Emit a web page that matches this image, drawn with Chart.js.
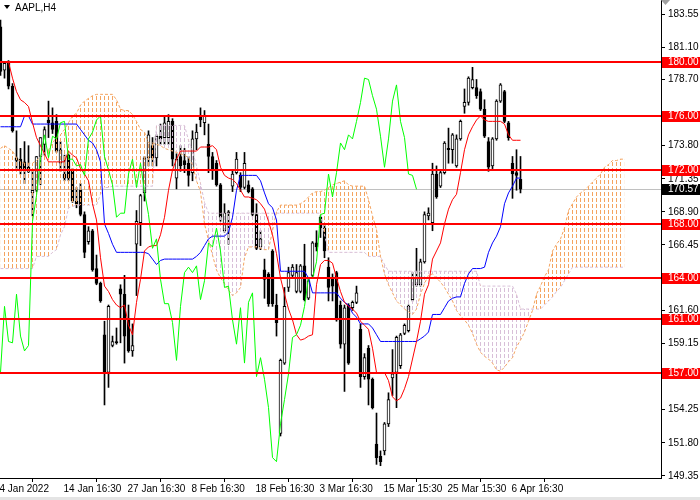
<!DOCTYPE html>
<html>
<head>
<meta charset="utf-8">
<script src="https://cdn.jsdelivr.net/npm/chart.js@4.4.1/dist/chart.umd.min.js"></script>
<style>
  html, body { margin: 0; padding: 0; background: #fff; }
  canvas { display: block; }
</style>
</head>
<body>
<canvas id="chart" width="700" height="500"></canvas>
<script>
// ── DATA (AAPL, H4) ──────────────────────────
const openP = [
  182.6,179.4,179.9,178.2,172.9,172.8,172.6,172.2,170.3,170.5,
  173.0,173.9,175.7,175.5,175.6,172.5,171.7,173.1,171.9,169.7,
  170.5,168.7,166.7,167.5,164.7,163.6,159.8,157.0,159.0,159.3,
  163.2,162.8,161.0,158.6,166.5,168.1,170.3,172.9,173.8,172.9,
  174.5,174.4,174.4,175.6,171.4,173.0,172.7,172.5,171.8,174.3,
  176.0,175.5,173.9,173.0,172.5,170.9,167.5,168.9,170.8,171.8,
  171.6,170.7,170.9,170.6,168.7,166.3,164.6,164.3,166.0,162.0,
  152.5,157.7,163.3,164.2,163.0,163.0,164.9,162.5,164.2,166.6,
  168.5,167.7,164.8,164.0,164.4,162.0,159.1,162.0,161.8,162.2,
  160.2,156.7,158.8,156.5,151.7,150.8,151.2,153.2,156.6,157.0,
  157.5,159.9,160.1,162.4,163.5,163.5,165.2,168.6,168.1,171.7,
  170.8,171.8,173.6,173.5,172.3,174.3,176.7,177.0,178.1,178.1,
  177.8,176.5,174.1,172.3,174.3,177.1,177.8,175.5,172.5,171.8,
  171.3
];
const highP = [
  183.1,180.0,180.1,178.4,174.9,173.6,174.1,173.8,171.9,173.0,
  174.4,175.2,177.1,176.6,176.1,174.1,173.1,173.2,172.1,170.7,
  171.0,168.9,167.8,167.6,165.7,163.7,160.8,162.0,159.7,160.3,
  163.5,164.2,162.0,160.6,169.0,170.2,173.0,174.9,174.4,174.6,
  175.4,175.9,176.1,175.8,173.2,173.8,173.6,173.0,174.9,175.4,
  176.6,176.4,175.4,173.3,172.7,171.0,169.5,169.0,171.9,173.3,
  171.8,173.3,171.2,170.7,169.5,167.5,165.4,164.4,166.1,162.8,
  158.0,163.3,164.8,165.0,165.0,165.0,166.5,163.9,166.7,167.5,
  168.6,168.0,165.5,164.3,164.5,162.3,162.0,162.1,162.3,163.4,
  160.6,158.4,159.0,156.6,154.0,151.2,153.3,155.5,158.7,159.7,
  159.9,160.6,162.0,164.4,166.2,165.4,168.9,169.2,172.5,172.3,
  171.9,174.1,175.1,174.7,174.6,175.7,178.0,178.9,179.6,178.7,
  178.0,177.2,174.4,174.4,177.2,178.4,177.9,175.6,173.0,173.5,
  173.0
];
const lowP = [
  179.0,178.8,178.0,174.8,172.1,171.7,171.0,171.8,168.6,170.4,
  170.9,173.1,174.4,174.7,173.3,171.9,171.2,171.2,169.6,169.2,
  168.6,165.5,166.5,164.5,163.5,162.2,154.6,155.9,158.9,159.1,
  159.2,157.7,158.5,158.2,162.7,166.4,169.7,172.3,172.3,172.3,
  173.9,173.9,173.9,172.3,170.6,171.9,171.8,170.8,171.2,173.5,
  175.2,174.6,171.8,171.3,170.8,168.2,167.4,166.5,170.4,171.7,
  170.4,170.6,170.3,168.6,166.1,166.1,162.5,161.9,161.9,159.7,
  152.3,157.6,163.0,164.0,162.9,162.9,162.3,162.4,164.0,166.0,
  167.0,165.5,162.3,162.3,160.8,158.8,155.6,157.6,161.6,162.1,
  155.9,156.5,154.6,154.3,150.2,150.1,150.9,153.0,155.3,154.4,
  157.3,159.8,160.0,162.3,163.4,163.4,165.1,168.3,167.5,169.9,
  170.7,171.7,172.5,172.5,172.2,174.2,176.2,176.8,178.0,177.3,
  176.4,174.4,171.9,172.1,174.2,177.0,175.5,174.2,169.9,170.5,
  170.3
];
const closeP = [
  179.3,179.9,178.2,174.9,172.7,172.1,172.1,171.9,170.5,173.0,
  174.4,175.0,175.5,175.0,173.4,173.5,171.4,171.4,169.7,169.5,
  168.7,165.9,167.5,164.6,163.6,162.3,157.0,161.9,159.3,159.2,
  162.8,159.7,158.6,159.0,168.2,170.1,172.9,174.6,172.9,174.5,
  174.3,175.5,175.6,172.8,172.8,172.3,172.4,171.6,174.3,174.8,
  175.7,176.0,173.0,172.0,170.9,168.5,168.8,168.8,171.7,172.8,
  170.7,172.5,170.4,168.7,166.2,166.9,163.9,162.1,162.1,160.7,
  157.9,161.9,164.4,164.8,164.4,164.9,162.4,163.8,166.6,166.3,
  167.7,166.0,163.3,163.4,160.9,159.1,161.8,157.7,162.2,162.9,
  156.7,158.1,156.5,154.4,150.7,150.4,153.2,155.0,156.9,159.6,
  159.8,160.5,161.9,164.0,164.0,165.2,168.7,168.8,171.7,170.0,
  171.8,174.0,173.5,174.6,174.3,175.6,177.0,178.8,178.7,177.5,
  176.5,174.5,172.2,174.3,177.1,178.3,175.6,174.4,171.7,171.6,
  170.57
];

// Ichimoku lines
const tenkan = [
  180.0,180.0,180.0,178.8,177.8,177.2,177.0,176.7,175.5,174.4,
  173.8,173.2,172.6,172.6,172.6,172.6,172.6,173.4,173.1,172.9,
  172.1,171.7,171.2,169.5,168.3,165.5,163.4,163.0,162.4,162.0,
  161.8,162.0,160.5,159.8,162.2,163.9,166.0,166.3,166.4,166.4,
  167.2,168.5,170.5,172.0,172.8,173.4,173.4,173.4,173.4,173.4,
  173.7,173.7,173.7,173.8,173.5,172.2,171.6,171.4,171.3,171.0,
  170.5,170.0,170.0,169.9,169.8,169.5,169.1,168.2,167.2,165.8,
  164.0,162.8,161.7,160.9,159.8,159.4,159.5,159.7,159.8,163.5,
  165.0,165.3,165.3,165.1,164.0,163.0,162.2,161.9,161.7,161.4,
  160.8,160.5,160.2,158.8,157.0,157.0,157.0,156.4,155.2,154.9,
  155.1,155.8,156.7,158.0,159.3,160.8,162.8,163.5,165.4,166.0,
  166.6,168.0,169.1,169.8,170.2,171.8,173.5,174.6,175.2,175.7,
  176.0,175.7,175.6,175.6,175.6,175.6,175.4,174.6,174.2,174.2,
  174.2
];
const kijun = [
  175.2,175.2,175.2,175.2,175.2,175.2,176.0,176.0,175.4,175.4,
  175.4,175.4,175.4,175.4,175.4,175.4,175.4,175.4,175.4,175.4,
  175.0,174.6,174.2,174.0,173.5,172.6,168.0,167.3,166.5,165.9,
  165.9,165.9,165.9,165.9,165.9,165.9,165.9,165.8,165.4,165.0,
  165.3,165.4,165.4,165.4,165.4,165.4,165.4,165.4,165.4,165.6,
  165.9,166.4,166.9,167.1,167.1,167.1,167.1,167.4,168.5,170.5,
  171.6,171.6,171.6,171.6,171.6,171.2,170.3,169.5,169.2,168.3,
  164.5,164.5,164.5,164.5,164.5,164.5,164.5,164.0,162.9,162.9,
  162.9,162.9,162.9,162.9,162.9,162.5,162.2,162.0,161.4,161.1,
  160.6,160.6,160.6,160.3,159.8,159.3,159.3,159.3,159.3,159.3,
  159.3,159.3,159.3,159.3,159.3,159.5,159.7,160.0,161.3,161.3,
  161.3,161.8,162.3,162.5,162.6,162.6,163.6,164.3,164.7,164.7,
  164.7,164.8,165.9,166.6,167.1,167.8,169.5,170.3,170.8,171.4,
  171.4
];
const spanA = [
  173.6,173.8,173.6,173.4,172.9,172.6,172.5,172.5,172.5,172.7,
  173.0,173.3,173.5,174.0,174.4,174.6,175.0,175.5,176.0,176.2,
  176.8,177.1,177.3,177.5,177.6,177.6,177.6,177.6,177.6,177.2,
  176.5,176.4,176.4,176.1,175.6,175.0,174.8,174.0,174.0,173.9,
  173.8,173.6,173.5,173.4,173.3,173.2,173.1,172.9,172.4,171.2,
  170.4,168.0,166.8,165.7,164.6,164.0,163.6,163.1,162.7,162.9,
  163.3,165.5,166.3,166.3,166.3,166.2,166.1,166.1,167.5,168.9,
  169.4,169.4,169.4,169.4,169.4,169.5,169.7,170.0,170.3,170.4,
  170.4,170.5,170.7,170.9,171.0,171.1,171.2,170.9,170.8,170.8,
  170.8,170.8,169.8,168.6,167.6,165.6,164.3,163.5,162.9,162.3,
  162.0,161.7,161.5,161.3,161.7,162.8,163.6,164.2,164.3,164.0,
  163.7,163.3,162.8,162.3,161.6,161.2,160.9,160.5,159.9,159.1,
  158.5,158.2,158.0,157.7,157.2,157.1,157.4,157.8,158.1,158.9,
  159.4,160.0,160.8,161.6,162.8,163.4,164.1,164.6,166.0,166.5,
  166.9,167.7,169.0,169.5,170.0,170.3,170.5,170.8,171.1,171.4,
  171.7,172.2,172.4,172.7,172.7,172.8,172.8
];
const spanB = [
  164.7,164.7,164.7,164.7,164.7,164.7,164.7,164.7,164.7,165.6,
  165.6,165.6,165.6,165.9,166.1,167.2,167.8,169.2,169.3,169.4,
  169.4,169.4,169.4,169.4,169.4,170.2,170.7,170.7,170.8,170.8,
  170.8,170.8,170.8,170.8,170.8,170.8,170.8,170.8,170.8,175.3,
  175.3,175.3,175.3,175.3,175.3,175.3,175.3,174.2,173.4,172.3,
  171.0,169.6,168.8,168.8,168.8,168.8,168.8,168.8,168.8,168.8,
  168.8,168.8,168.8,168.8,168.8,168.8,168.8,168.8,168.8,168.8,
  168.8,168.8,168.8,168.8,168.8,168.8,168.8,168.8,168.8,168.8,
  168.8,167.2,165.9,165.9,165.9,165.9,165.9,165.9,165.9,165.9,
  165.9,165.9,165.6,165.6,165.6,165.6,165.0,164.5,164.5,164.5,
  164.5,164.5,164.5,164.5,164.5,164.5,164.5,164.5,164.5,164.5,
  164.5,164.5,164.5,164.5,164.5,164.5,164.5,164.5,164.5,164.5,
  163.4,163.4,163.4,163.4,163.4,163.4,163.4,163.4,163.4,162.8,
  161.7,161.7,161.7,161.7,161.7,161.7,162.0,162.3,162.6,163.0,
  163.3,163.8,164.3,164.8,164.8,164.8,164.8,164.8,164.8,164.8,
  164.8,164.8,164.8,164.8,164.8,164.8,164.8
];
const CHIKOU_SHIFT = 26;

const levels    = [180, 176, 172, 168, 164, 161, 157];
const lastPrice = 170.57;

const xTickBars   = [0, 16, 32, 48, 64, 80, 96, 112, 128];
const xTickLabels = ['4 Jan 2022','14 Jan 16:30','27 Jan 16:30','8 Feb 16:30','18 Feb 16:30',
                     '3 Mar 16:30','15 Mar 15:30','25 Mar 15:30','6 Apr 16:30'];
const yTicks = [183.55,181.10,178.70,173.80,171.35,168.90,166.45,
                161.60,159.15,156.70,154.25,151.80,149.35];

// ── STYLE ────────────────────────────────────
const FONT = '"Liberation Sans", Arial, sans-serif';
Chart.defaults.font.family = FONT;
Chart.defaults.font.size   = 10;
Chart.defaults.color       = '#000';

// vertical dotted hatch, one column per bar
function hatch(color) {
  const c = document.createElement('canvas');
  c.width = 4; c.height = 6;
  const g = c.getContext('2d');
  g.fillStyle = color;
  g.fillRect(0, 0, 1, 4);
  return g.createPattern(c, 'repeat');
}

const bars = openP.map((_, i) => i);

// levels, price line, axis labels, title
const overlay = {
  id: 'overlay',
  beforeDatasetsDraw(chart) {
    const { ctx, chartArea: a, scales: { y } } = chart;
    const py = Math.round(y.getPixelForValue(lastPrice)) + 0.5;
    ctx.save();
    ctx.strokeStyle = '#c0c0c0';
    ctx.lineWidth = 1;
    ctx.beginPath(); ctx.moveTo(a.left, py); ctx.lineTo(a.right, py); ctx.stroke();
    ctx.restore();
  },
  afterDatasetsDraw(chart) {
    const { ctx, chartArea: a, scales: { y } } = chart;
    ctx.save();
    ctx.strokeStyle = '#ff0000';
    ctx.lineWidth = 2;
    levels.forEach(lv => {
      const py = Math.round(y.getPixelForValue(lv));
      ctx.beginPath(); ctx.moveTo(a.left, py); ctx.lineTo(a.right, py); ctx.stroke();
    });
    ctx.restore();
  },
  afterDraw(chart) {
    const { ctx, chartArea: a, scales: { y } } = chart;
    ctx.save();
    ctx.font = '10px ' + FONT;
    ctx.textBaseline = 'middle';
    ctx.textAlign = 'left';
    const tag = (v, bg) => {
      const py = Math.round(y.getPixelForValue(v));
      ctx.fillStyle = bg;
      ctx.fillRect(a.right + 1, py - 5, 38, 11);
      ctx.fillStyle = '#fff';
      ctx.fillText(v.toFixed(2), a.right + 7, py + 0.5);
    };
    levels.forEach(lv => tag(lv, '#ff0000'));
    tag(lastPrice, '#000');

    // title
    ctx.fillStyle = '#000';
    ctx.beginPath(); ctx.moveTo(4, 5); ctx.lineTo(10, 5); ctx.lineTo(7, 9); ctx.closePath(); ctx.fill();
    ctx.fillText('AAPL,H4', 15, 8);

    // shift marker
    ctx.fillStyle = '#a0a0a0';
    ctx.beginPath(); ctx.moveTo(661, 0); ctx.lineTo(670, 0); ctx.lineTo(665.5, 5); ctx.closePath(); ctx.fill();

    // window edge
    ctx.fillStyle = '#e4e4e4';
    ctx.fillRect(0, 497, 700, 3);
    ctx.restore();
  }
};

new Chart(document.getElementById('chart'), {
  type: 'bar',
  data: {
    datasets: [
      {
        label: 'wick',
        data: bars.map(i => ({ x: i, y: [lowP[i], highP[i]] })),
        backgroundColor: '#000',
        barThickness: 1,
        grouped: false,
        order: 10,
      },
      {
        label: 'body',
        data: bars.map(i => ({ x: i, y: [openP[i], closeP[i]] })),
        backgroundColor: bars.map(i => closeP[i] >= openP[i] ? '#fff' : '#000'),
        borderColor: '#000',
        borderWidth: 1,
        borderSkipped: false,
        barThickness: 3,
        grouped: false,
        order: 9,
      },
      {
        type: 'line',
        label: 'Senkou Span B',
        data: spanB.map((v, i) => ({ x: i, y: v })),
        borderColor: '#d8bfd8',
        borderWidth: 1,
        borderDash: [3, 2],
        pointRadius: 0,
        tension: 0,
        fill: false,
        order: 5,
      },
      {
        type: 'line',
        label: 'Senkou Span A',
        data: spanA.map((v, i) => ({ x: i, y: v })),
        borderColor: '#f4a460',
        borderWidth: 1,
        borderDash: [3, 2],
        pointRadius: 0,
        tension: 0,
        fill: { target: '-1', above: hatch('#f4a460'), below: hatch('#d8bfd8') },
        order: 4,
      },
      {
        type: 'line',
        label: 'Kijun-sen',
        data: kijun.map((v, i) => ({ x: i, y: v })),
        borderColor: '#0000ff',
        borderWidth: 1,
        pointRadius: 0,
        tension: 0,
        fill: false,
        order: 3,
      },
      {
        type: 'line',
        label: 'Tenkan-sen',
        data: tenkan.map((v, i) => ({ x: i, y: v })),
        borderColor: '#ff0000',
        borderWidth: 1,
        pointRadius: 0,
        tension: 0,
        fill: false,
        order: 2,
      },
      {
        type: 'line',
        label: 'Chikou Span',
        data: closeP.slice(CHIKOU_SHIFT).map((v, i) => ({ x: i, y: v })),
        borderColor: '#00ff00',
        borderWidth: 1,
        pointRadius: 0,
        tension: 0,
        fill: false,
        order: 1,
      },
    ]
  },
  options: {
    responsive: false,
    devicePixelRatio: 1,
    animation: false,
    events: [],
    layout: { padding: 0 },
    plugins: { legend: { display: false }, tooltip: { enabled: false } },
    scales: {
      x: {
        type: 'linear',
        min: -0.125,
        max: 165.125,
        offset: false,
        grid: { drawOnChartArea: false, drawTicks: true, tickLength: 4, color: '#000' },
        border: { display: true, color: '#000' },
        ticks: {
          autoSkip: false, maxRotation: 0, minRotation: 0,
          align: 'start', labelOffset: -1, padding: 1,
          callback: (v, i) => xTickLabels[i]
        },
        afterBuildTicks: s => { s.ticks = xTickBars.map(v => ({ value: v })); },
        afterFit: s => { s.height = 22; s.paddingLeft = 0; s.paddingRight = 0; }
      },
      y: {
        position: 'right',
        min: 149.19,
        max: 184.587,
        grid: { drawOnChartArea: false, drawTicks: true, tickLength: 4, color: '#000' },
        border: { display: true, color: '#000' },
        ticks: { padding: 3, callback: v => v.toFixed(2) },
        afterBuildTicks: s => { s.ticks = yTicks.map(v => ({ value: v })); },
        afterFit: s => { s.width = 39; s.paddingTop = 0; s.paddingBottom = 0; }
      }
    }
  },
  plugins: [overlay]
});
</script>
</body>
</html>
